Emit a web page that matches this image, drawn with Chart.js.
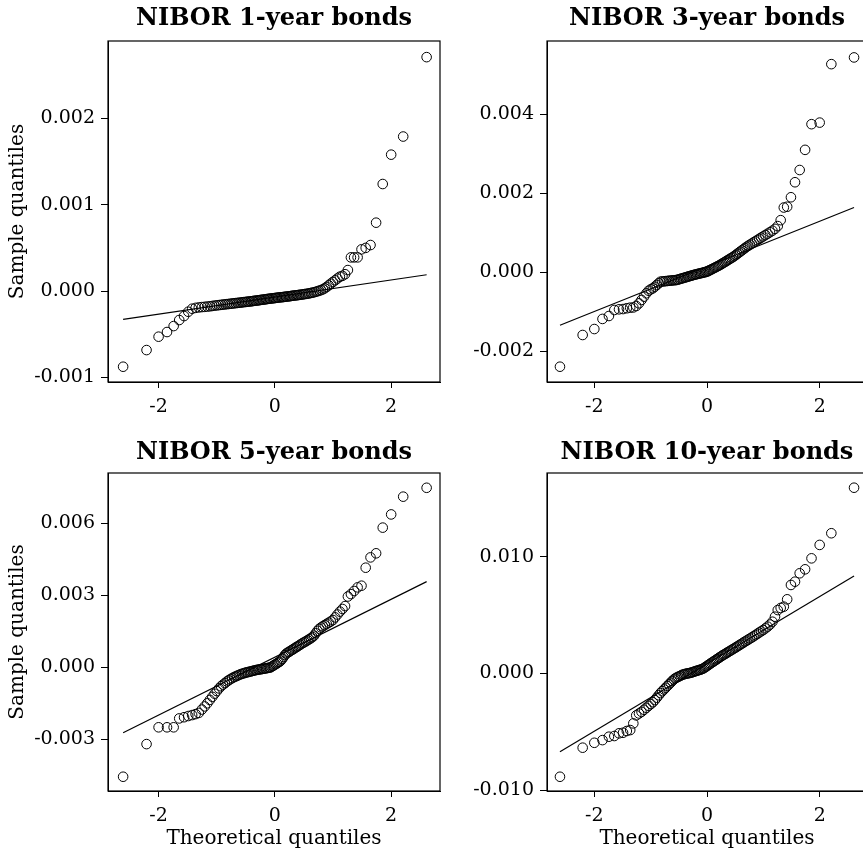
<!DOCTYPE html>
<html>
<head>
<meta charset="utf-8">
<script src="https://cdn.jsdelivr.net/npm/chart.js@4.4.1/dist/chart.umd.min.js"></script>
<style>
  html, body { margin: 0; padding: 0; background: #fff; width: 863px; height: 851px; overflow: hidden; position: relative; }
  canvas { position: absolute; }
</style>
</head>
<body>
<canvas id="q1" width="450" height="430" style="left:0px;top:0px"></canvas>
<canvas id="q3" width="440" height="430" style="left:440px;top:0px"></canvas>
<canvas id="q5" width="450" height="421" style="left:0px;top:430px"></canvas>
<canvas id="q10" width="440" height="421" style="left:440px;top:430px"></canvas>
<script>
// theoretical normal quantiles (n = 110), shared by all four panels
const theo = [
  -2.610, -2.207, -2.000, -1.855, -1.741, -1.645, -1.562, -1.490, -1.423, -1.363,
  -1.308, -1.256, -1.207, -1.162, -1.118, -1.076, -1.036, -0.998, -0.961, -0.926,
  -0.892, -0.858, -0.826, -0.794, -0.763, -0.733, -0.703, -0.674, -0.646, -0.618,
  -0.590, -0.564, -0.537, -0.511, -0.486, -0.460, -0.435, -0.410, -0.385, -0.361,
  -0.337, -0.313, -0.289, -0.266, -0.242, -0.219, -0.195, -0.172, -0.149, -0.126,
  -0.103, -0.080, -0.057, -0.034, -0.011, 0.011, 0.034, 0.057, 0.080, 0.103,
  0.126, 0.149, 0.172, 0.195, 0.219, 0.242, 0.266, 0.289, 0.313, 0.337,
  0.361, 0.385, 0.410, 0.435, 0.460, 0.486, 0.511, 0.537, 0.564, 0.590,
  0.618, 0.646, 0.674, 0.703, 0.733, 0.763, 0.794, 0.826, 0.858, 0.892,
  0.926, 0.961, 0.998, 1.036, 1.076, 1.118, 1.162, 1.207, 1.256, 1.308,
  1.363, 1.423, 1.490, 1.562, 1.645, 1.741, 1.855, 2.000, 2.207, 2.610
];

// sample quantiles, NIBOR 1-year
const nibor1 = [
  -0.000877, -0.000684, -0.000529, -0.000475, -0.000406, -0.000336, -0.000290, -0.000240, -0.000205, -0.000195,
  -0.000190, -0.000186, -0.000183, -0.000180, -0.000177, -0.000173, -0.000169, -0.000166, -0.000163, -0.000160,
  -0.000157, -0.000155, -0.000152, -0.000150, -0.000147, -0.000145, -0.000142, -0.000140, -0.000138, -0.000136,
  -0.000134, -0.000131, -0.000129, -0.000127, -0.000125, -0.000123, -0.000121, -0.000119, -0.000117, -0.000114,
  -0.000112, -0.000110, -0.000108, -0.000106, -0.000103, -0.000101, -0.000099, -0.000097, -0.000094, -0.000092,
  -0.000090, -0.000088, -0.000086, -0.000084, -0.000082, -0.000080, -0.000078, -0.000076, -0.000074, -0.000072,
  -0.000071, -0.000069, -0.000067, -0.000065, -0.000063, -0.000061, -0.000059, -0.000056, -0.000054, -0.000052,
  -0.000050, -0.000048, -0.000046, -0.000043, -0.000041, -0.000038, -0.000036, -0.000033, -0.000030, -0.000027,
  -0.000023, -0.000019, -0.000014, -0.000009, -0.000003, 0.000004, 0.000011, 0.000020, 0.000032, 0.000048,
  0.000066, 0.000086, 0.000105, 0.000124, 0.000145, 0.000166, 0.000176, 0.000195, 0.000243, 0.000390,
  0.000390, 0.000390, 0.000483, 0.000500, 0.000533, 0.000792, 0.001240, 0.001580, 0.001790, 0.002710
];

// sample quantiles, NIBOR 3-year
const nibor3 = [
  -0.002390, -0.001587, -0.001436, -0.001180, -0.001106, -0.000954, -0.000937, -0.000930, -0.000910, -0.000895,
  -0.000890, -0.000853, -0.000785, -0.000700, -0.000617, -0.000532, -0.000466, -0.000430, -0.000405, -0.000364,
  -0.000320, -0.000278, -0.000237, -0.000232, -0.000228, -0.000223, -0.000219, -0.000214, -0.000210, -0.000206,
  -0.000202, -0.000198, -0.000194, -0.000183, -0.000172, -0.000161, -0.000151, -0.000140, -0.000130, -0.000119,
  -0.000109, -0.000099, -0.000089, -0.000079, -0.000069, -0.000061, -0.000052, -0.000044, -0.000036, -0.000028,
  -0.000020, -0.000013, -0.000005, 0.000003, 0.000011, 0.000023, 0.000040, 0.000057, 0.000074, 0.000091,
  0.000108, 0.000125, 0.000142, 0.000159, 0.000177, 0.000196, 0.000216, 0.000237, 0.000258, 0.000279,
  0.000300, 0.000321, 0.000343, 0.000364, 0.000386, 0.000412, 0.000439, 0.000467, 0.000496, 0.000524,
  0.000554, 0.000584, 0.000614, 0.000645, 0.000672, 0.000699, 0.000727, 0.000756, 0.000785, 0.000815,
  0.000846, 0.000877, 0.000909, 0.000943, 0.000978, 0.001015, 0.001054, 0.001100, 0.001170, 0.001320,
  0.001640, 0.001660, 0.001900, 0.002280, 0.002590, 0.003100, 0.003750, 0.003790, 0.005270, 0.005440
];

// sample quantiles, NIBOR 5-year
const nibor5 = [
  -0.00456, -0.00320, -0.00250, -0.00250, -0.00250, -0.00213, -0.00208, -0.00203, -0.00199, -0.00195,
  -0.00190, -0.00176, -0.00163, -0.00150, -0.00136, -0.00123, -0.00110, -0.00099, -0.00088, -0.00079,
  -0.00072, -0.00066, -0.00059, -0.00054, -0.00049, -0.00045, -0.00041, -0.00038, -0.00035, -0.00032,
  -0.00029, -0.00027, -0.00025, -0.00023, -0.00021, -0.00020, -0.00018, -0.00017, -0.00015, -0.00014,
  -0.00012, -0.00011, -0.00010, -0.00009, -0.00008, -0.00007, -0.00006, -0.00005, -0.00004, -0.00003,
  -0.00002, -0.00001, 0.00002, 0.00006, 0.00009, 0.00013, 0.00016, 0.00020, 0.00023, 0.00028,
  0.00035, 0.00043, 0.00051, 0.00057, 0.00061, 0.00064, 0.00068, 0.00072, 0.00075, 0.00079,
  0.00083, 0.00086, 0.00090, 0.00094, 0.00098, 0.00102, 0.00105, 0.00109, 0.00113, 0.00117,
  0.00121, 0.00126, 0.00132, 0.00142, 0.00152, 0.00160, 0.00166, 0.00171, 0.00176, 0.00181,
  0.00186, 0.00191, 0.00197, 0.00208, 0.00220, 0.00232, 0.00243, 0.00255, 0.00295, 0.00305,
  0.00318, 0.00333, 0.00340, 0.00415, 0.00458, 0.00475, 0.00582, 0.00637, 0.00711, 0.00748
];

// sample quantiles, NIBOR 10-year
const nibor10 = [
  -0.00886, -0.00637, -0.00595, -0.00572, -0.00543, -0.00537, -0.00514, -0.00509, -0.00494, -0.00486,
  -0.00429, -0.00360, -0.00344, -0.00330, -0.00312, -0.00295, -0.00278, -0.00263, -0.00248, -0.00229,
  -0.00209, -0.00188, -0.00169, -0.00153, -0.00138, -0.00123, -0.00108, -0.00094, -0.00080, -0.00066,
  -0.00053, -0.00043, -0.00036, -0.00030, -0.00024, -0.00018, -0.00012, -0.00008, -0.00005, -0.00002,
  0.00000, 0.00002, 0.00005, 0.00008, 0.00012, 0.00016, 0.00020, 0.00023, 0.00027, 0.00030,
  0.00034, 0.00038, 0.00044, 0.00052, 0.00059, 0.00067, 0.00074, 0.00082, 0.00090, 0.00097,
  0.00105, 0.00112, 0.00120, 0.00127, 0.00135, 0.00142, 0.00150, 0.00157, 0.00164, 0.00171,
  0.00178, 0.00185, 0.00192, 0.00200, 0.00207, 0.00215, 0.00222, 0.00230, 0.00238, 0.00246,
  0.00254, 0.00263, 0.00272, 0.00280, 0.00289, 0.00298, 0.00307, 0.00317, 0.00327, 0.00338,
  0.00349, 0.00360, 0.00371, 0.00385, 0.00400, 0.00418, 0.00442, 0.00485, 0.00542, 0.00560,
  0.00571, 0.00634, 0.00757, 0.00785, 0.00857, 0.00891, 0.00985, 0.01100, 0.01200, 0.01590
];

// reference (qqline) end points
const lineX = [-2.61, 2.61];
const line1 = [-0.000328, 0.000189];
const line3 = [-0.00134, 0.00164];
const line5 = [-0.002725, 0.00357];
const line10 = [-0.00672, 0.00834];

// axis ticks
const xTicks = [-2, 0, 2];
const yTicks1 = [-0.001, 0, 0.001, 0.002];
const yTicks3 = [-0.002, 0, 0.002, 0.004];
const yTicks5 = [-0.003, 0, 0.003, 0.006];
const yTicks10 = [-0.01, 0, 0.01];

const serif = '"DejaVu Serif", "Liberation Serif", serif';

// box round the plot area
const boxPlugin = {
  id: 'box',
  afterDraw(chart) {
    const a = chart.chartArea, ctx = chart.ctx;
    ctx.save();
    ctx.strokeStyle = '#000';
    ctx.lineWidth = 1.2;
    ctx.strokeRect(a.left, a.top, a.right - a.left, a.bottom - a.top);
    ctx.restore();
  }
};

function qqChart(id, p) {
  let points = theo.map((x, i) => ({ x: x, y: p.sample[i] }));
  let line = lineX.map((x, i) => ({ x: x, y: p.line[i] }));
  return new Chart(document.getElementById(id), {
    type: 'scatter',
    data: {
      datasets: [
        {
          data: points,
          pointStyle: 'circle',
          radius: 4.8,
          borderColor: '#000',
          borderWidth: 1,
          backgroundColor: 'rgba(0,0,0,0)',
          clip: false
        },
        {
          type: 'line',
          data: line,
          borderColor: '#000',
          borderWidth: 1.2,
          pointRadius: 0,
          fill: false
        }
      ]
    },
    options: {
      responsive: false,
      animation: false,
      events: [],
      layout: { padding: { left: 0, right: p.padRight, top: 0, bottom: 0 } },
      plugins: {
        legend: { display: false },
        tooltip: { enabled: false },
        title: {
          display: true,
          text: p.title,
          fullSize: false,
          color: '#000',
          font: { family: serif, size: 24, weight: 'bold', lineHeight: 1.2 },
          padding: { top: p.titleTop, bottom: p.titleBottom }
        }
      },
      scales: {
        x: {
          type: 'linear',
          min: p.xMin,
          max: p.xMax,
          afterBuildTicks: s => { s.ticks = xTicks.map(v => ({ value: v })); },
          afterFit: s => { s.height = p.xHeight; },
          grid: { drawOnChartArea: false, drawTicks: true, tickLength: 6, color: '#000', lineWidth: 1 },
          border: { display: true, color: '#000', width: 1 },
          ticks: { color: '#000', padding: 8, maxRotation: 0, font: { family: serif, size: 19 }, callback: v => String(v) },
          title: {
            display: p.xTitle,
            text: 'Theoretical quantiles',
            color: '#000',
            font: { family: serif, size: 20, lineHeight: 1.2 },
            padding: { top: 0, bottom: 0 }
          }
        },
        y: {
          type: 'linear',
          min: p.yMin,
          max: p.yMax,
          afterBuildTicks: s => { s.ticks = p.yTicks.map(v => ({ value: v })); },
          afterFit: s => { s.width = p.yWidth; },
          grid: { drawOnChartArea: false, drawTicks: true, tickLength: 7, color: '#000', lineWidth: 1 },
          border: { display: true, color: '#000', width: 1 },
          ticks: { color: '#000', padding: 6, font: { family: serif, size: 19 }, callback: v => v.toFixed(3) },
          title: {
            display: p.yTitle,
            text: 'Sample quantiles',
            color: '#000',
            font: { family: serif, size: 20, lineHeight: 1.2 },
            padding: { top: 6, bottom: 0 }
          }
        }
      }
    },
    plugins: [boxPlugin]
  });
}

qqChart('q1', {
  title: 'NIBOR 1-year bonds', sample: nibor1, line: line1, yTicks: yTicks1,
  xMin: -2.87, xMax: 2.84, yMin: -0.001054, yMax: 0.002897,
  yWidth: 108, padRight: 10, xHeight: 48, titleTop: 4, titleBottom: 8.2,
  xTitle: false, yTitle: true
});
qqChart('q3', {
  title: 'NIBOR 3-year bonds', sample: nibor3, line: line3, yTicks: yTicks3,
  xMin: -2.84, xMax: 2.84, yMin: -0.002777, yMax: 0.005856,
  yWidth: 107, padRight: 13, xHeight: 48, titleTop: 4, titleBottom: 8.2,
  xTitle: false, yTitle: false
});
qqChart('q5', {
  title: 'NIBOR 5-year bonds', sample: nibor5, line: line5, yTicks: yTicks5,
  xMin: -2.87, xMax: 2.84, yMin: -0.005154, yMax: 0.008096,
  yWidth: 108, padRight: 10, xHeight: 60, titleTop: 8.5, titleBottom: 5.7,
  xTitle: true, yTitle: true
});
qqChart('q10', {
  title: 'NIBOR 10-year bonds', sample: nibor10, line: line10, yTicks: yTicks10,
  xMin: -2.84, xMax: 2.84, yMin: -0.01008, yMax: 0.01716,
  yWidth: 107, padRight: 13, xHeight: 60, titleTop: 8.5, titleBottom: 5.7,
  xTitle: true, yTitle: false
});
</script>
</body>
</html>
